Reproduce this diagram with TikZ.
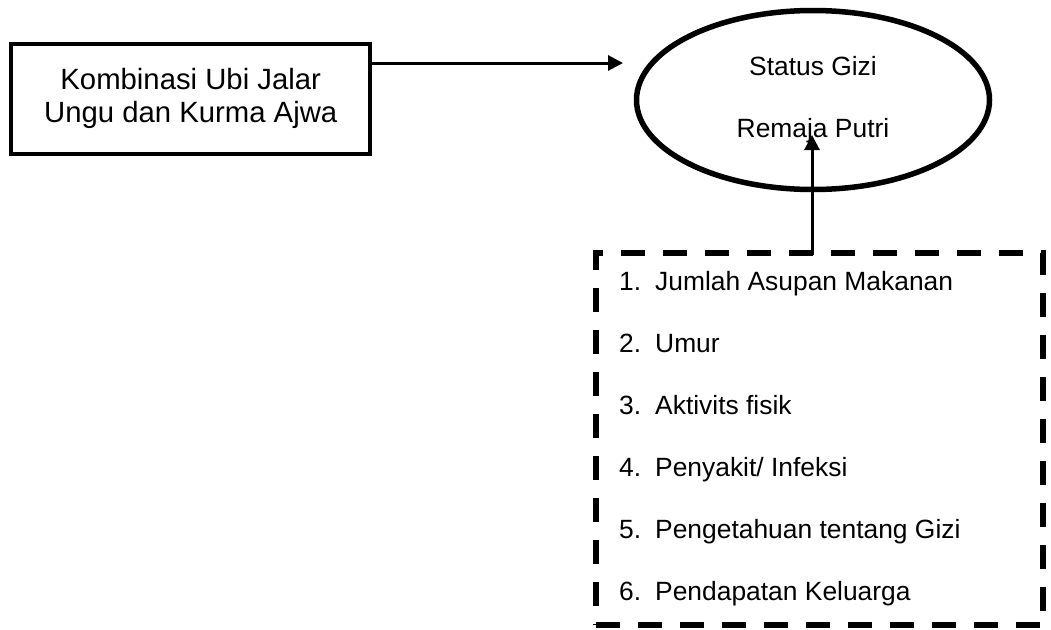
\documentclass[tikz,border=0pt]{standalone}
\usepackage{fontspec}
\setmainfont{Liberation Sans}
\usetikzlibrary{arrows.meta,shapes.geometric}
\begin{document}
\begin{tikzpicture}[x=1pt, y=-1pt,
    kotak/.style={draw, line width=4pt, minimum width=358.5pt, minimum height=110.5pt, inner sep=0pt, align=center, font=\fontsize{29.3}{33}\selectfont},
    elips/.style={draw, ellipse, line width=5.5pt, minimum width=353pt, minimum height=179pt, inner sep=0pt, align=center, font=\fontsize{26.4}{62}\selectfont},
    putus/.style={draw, line width=6pt, dash pattern=on 24pt off 18pt, minimum width=447.6pt, minimum height=372pt, inner sep=0pt},
    butir/.style={anchor=base west, inner sep=0pt, font=\fontsize{26.4}{30}\selectfont},
    panah/.style={line width=3pt, -{Triangle[length=15pt, width=15pt]}}]
    \useasboundingbox (0,0) rectangle (1051,629);
    \node[kotak] (kombinasi) at (190.7,98.8) {Kombinasi Ubi Jalar\\Ungu dan Kurma Ajwa};
    \node[elips] (status) at (813,100) {Status Gizi\\Remaja Putri};
    \node[putus] (faktor) at (819.5,439) {};
    % daftar faktor
    \foreach \txt [count=\i] in {Jumlah Asupan Makanan, Umur, Aktivits fisik, Penyakit/ Infeksi, Pengetahuan tentang Gizi, Pendapatan Keluarga}
        \node[butir] (faktor\i) at (619,228+62*\i) {\makebox[36pt][l]{\i.}\txt};
    \coordinate (masuk) at (623,63);
    \coordinate (ujung) at (812,135);
    \draw[panah] (kombinasi.east |- masuk) -- (masuk);
    \draw[panah] ([yshift=-5pt]ujung |- faktor.north) -- (ujung);
\end{tikzpicture}
\end{document}
